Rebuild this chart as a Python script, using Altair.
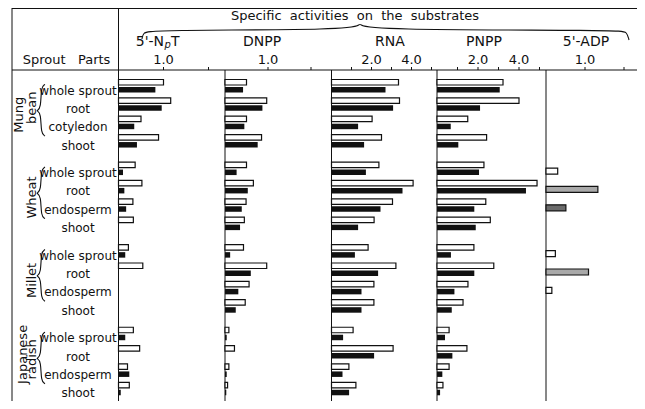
import altair as alt
import pandas as pd

# ---------------- data ----------------
groups = ["Mung bean", "Wheat", "Millet", "Japanese radish"]
group_label_lines = [["Mung", "bean"], ["Wheat"], ["Millet"], ["Japanese", "radish"]]
sprout_parts = [
    ["whole sprout", "root", "cotyledon", "shoot"],
    ["whole sprout", "root", "endosperm", "shoot"],
    ["whole sprout", "root", "endosperm", "shoot"],
    ["whole sprout", "root", "endosperm", "shoot"],
]
substrates = ["5'-NpT", "DNPP", "RNA", "PNPP", "5'-ADP"]
tick_values = [[1.0], [1.0], [2.0, 4.0], [2.0, 4.0], [1.0]]
tick_labels = [["1.0"], ["1.0"], ["2.0", "4.0"], ["2.0", "4.0"], ["1.0"]]
minor_ticks = [[1, 2], [1, 2], [1, 2, 3, 4, 5], [1, 2, 3, 4, 5], [1, 2]]

# 16 rows each: Mung bean (4), Wheat (4), Millet (4), Japanese radish (4)
npt_open = [1.00, 1.16, 0.50, 0.89, 0.37, 0.52, 0.32, 0.33, 0.22, 0.54, 0.0, 0.0, 0.33, 0.47, 0.20, 0.24]
npt_filled = [0.82, 0.96, 0.35, 0.41, 0.10, 0.13, 0.17, 0.0, 0.15, 0.0, 0.0, 0.0, 0.15, 0.0, 0.24, 0.05]
dnpp_open = [0.50, 0.97, 0.50, 0.85, 0.50, 0.66, 0.49, 0.45, 0.43, 0.97, 0.56, 0.47, 0.09, 0.22, 0.09, 0.06]
dnpp_filled = [0.42, 0.87, 0.45, 0.76, 0.27, 0.53, 0.39, 0.35, 0.12, 0.60, 0.31, 0.25, 0.04, 0.0, 0.04, 0.03]
rna_open = [3.35, 3.40, 2.03, 2.50, 2.37, 4.08, 3.05, 2.13, 1.83, 3.22, 2.12, 2.12, 1.08, 3.08, 0.87, 1.22]
rna_filled = [2.70, 3.08, 1.33, 1.63, 1.72, 3.55, 2.45, 1.33, 1.17, 2.33, 1.50, 1.50, 0.58, 2.13, 0.55, 0.88]
pnpp_open = [3.22, 4.00, 1.50, 2.42, 2.29, 4.88, 2.38, 2.60, 1.80, 2.77, 1.51, 1.27, 0.59, 1.46, 0.59, 0.29]
pnpp_filled = [3.06, 2.10, 0.67, 1.04, 2.05, 4.34, 1.82, 1.89, 0.68, 1.82, 0.85, 0.72, 0.39, 0.75, 0.26, 0.15]
adp_values = [0, 0, 0, 0, 0.30, 1.33, 0.51, 0, 0.24, 1.09, 0.15, 0, 0, 0, 0, 0]
adp_shading = ["", "", "", "", "open", "stippled", "dense", "",
               "open", "stippled", "open", "", "", "", "", ""]

# ---------------- layout ----------------
W, H = 629, 393
FONT = "DejaVu Sans"
INK = "#111111"
NB = "\u00a0"
panel_left = [110.5, 217.0, 323.5, 429.0, 538.0]
px_per_unit = [45.0, 43.0, 20.0, 20.5, 39.0]
row0, pitch, group_step = 82.5, 18.35, 4.5
header_y = 62.0


def xs(i):
    return alt.Scale(domain=[0, 1], range=[panel_left[i], panel_left[i] + px_per_unit[i]],
                     nice=False, zero=False)


ys = alt.Scale(domain=[0, 1], range=[row0, row0 + pitch], nice=False, zero=False)

OPEN = (-11.0 / pitch, -5.5 / pitch)
FILLED = (-3.5 / pitch, 2.0 / pitch)
ADPOFF = (-5.0 / pitch, 1.0 / pitch)

recs = []
for g, parts in enumerate(sprout_parts):
    for r, p in enumerate(parts):
        recs.append({"group": groups[g], "part": p, "pos": g * group_step + r})
rows = pd.DataFrame(recs)

layers = []

# ----- frame lines (pixel positions) -----
segs = [
    (4, W, 0.5, 0.5),
    (4, 4, 0, H),
    (panel_left[0], panel_left[0], 0, H),
    (4, W, header_y, header_y),
]
for i in range(1, 5):
    segs.append((panel_left[i], panel_left[i], header_y, H))
seg_df = pd.DataFrame(segs, columns=["x", "x2", "y", "y2"])
layers.append(
    alt.Chart(seg_df).mark_rule(color=INK, strokeWidth=1).encode(
        x=alt.X("x:Q", scale=None), x2="x2:Q",
        y=alt.Y("y:Q", scale=None), y2="y2:Q")
)

# ----- bars -----
series = [(npt_open, npt_filled), (dnpp_open, dnpp_filled),
          (rna_open, rna_filled), (pnpp_open, pnpp_filled)]
for i, (op, fi) in enumerate(series):
    d_open = rows.assign(value=op, zero=0.0)
    d_open = d_open[d_open["value"] > 0]
    d_open = d_open.assign(y0=d_open["pos"] + OPEN[0], y1=d_open["pos"] + OPEN[1])
    d_fill = rows.assign(value=fi, zero=0.0)
    d_fill = d_fill[d_fill["value"] > 0]
    d_fill = d_fill.assign(y0=d_fill["pos"] + FILLED[0], y1=d_fill["pos"] + FILLED[1])
    layers.append(
        alt.Chart(d_open).mark_rect(fill="white", stroke=INK, strokeWidth=1.2).encode(
            x=alt.X("value:Q", scale=xs(i), axis=None), x2="zero:Q",
            y=alt.Y("y0:Q", scale=ys, axis=None), y2="y1:Q")
    )
    layers.append(
        alt.Chart(d_fill).mark_rect(fill=INK).encode(
            x=alt.X("value:Q", scale=xs(i), axis=None), x2="zero:Q",
            y=alt.Y("y0:Q", scale=ys, axis=None), y2="y1:Q")
    )

d_adp = rows.assign(value=adp_values, shade=adp_shading, zero=0.0)
d_adp = d_adp[d_adp["value"] > 0]
d_adp = d_adp.assign(y0=d_adp["pos"] + ADPOFF[0], y1=d_adp["pos"] + ADPOFF[1])
layers.append(
    alt.Chart(d_adp).mark_rect(stroke=INK, strokeWidth=1.2).encode(
        x=alt.X("value:Q", scale=xs(4), axis=None), x2="zero:Q",
        y=alt.Y("y0:Q", scale=ys, axis=None), y2="y1:Q",
        fill=alt.Fill("shade:N", legend=None,
                      scale=alt.Scale(domain=["open", "stippled", "dense"],
                                      range=["white", "#a9a9a9", "#6b6b6b"])))
)

# ----- axis ticks and tick labels along the header line -----
for i in range(5):
    tdf = pd.DataFrame({"value": minor_ticks[i]})
    layers.append(
        alt.Chart(tdf).mark_rule(color=INK, strokeWidth=1).encode(
            x=alt.X("value:Q", scale=xs(i), axis=None),
            y=alt.value(header_y - 3), y2=alt.value(header_y))
    )
    ldf = pd.DataFrame({"value": tick_values[i], "label": tick_labels[i]})
    layers.append(
        alt.Chart(ldf).mark_text(font=FONT, fontSize=13, color=INK, baseline="middle").encode(
            x=alt.X("value:Q", scale=xs(i), axis=None),
            y=alt.value(52), text="label:N")
    )

# ----- row labels -----
layers.append(
    alt.Chart(rows).mark_text(font=FONT, fontSize=12, color=INK, align="center",
                              baseline="middle").encode(
        x=alt.value(70), y=alt.Y("pos:Q", scale=ys, axis=None), text="part:N")
)

# ----- group labels (rotated) -----
gl_rel = [[1.32, 0.94], [1.33], [1.35], [0.88, 1.15]]
gl_x = [[10.5, 24.0], [24.0], [24.0], [14.5, 24.0]]
grecs = []
for g in range(4):
    for t, rel, xx in zip(group_label_lines[g], gl_rel[g], gl_x[g]):
        grecs.append({"text": t, "x": xx, "pos": g * group_step + rel})
layers.append(
    alt.Chart(pd.DataFrame(grecs)).mark_text(font=FONT, fontSize=13, color=INK, angle=270,
                                             align="center", baseline="middle").encode(
        x=alt.X("x:Q", scale=None), y=alt.Y("pos:Q", scale=ys, axis=None), text="text:N")
)

# ----- group braces -----
brace_shape = [(37, -0.33), (33, -0.2), (33, 0.95), (29, 1.1), (29, 1.1), (33, 1.25),
               (33, 2.35), (37, 2.48)]
brecs = []
for g in range(4):
    for o, (bx, rel) in enumerate(brace_shape):
        brecs.append({"id": g, "o": o, "x": bx, "pos": g * group_step + rel})
layers.append(
    alt.Chart(pd.DataFrame(brecs)).mark_line(color=INK, strokeWidth=1.1, interpolate="basis").encode(
        x=alt.X("x:Q", scale=None), y=alt.Y("pos:Q", scale=ys, axis=None),
        detail="id:N", order="o:Q")
)

# ----- header brace -----
hb = [(134, 31), (135, 25), (142, 22), (344, 22), (352, 16), (352, 16), (360, 22),
      (612, 22), (619, 24), (621, 32)]
hb_df = pd.DataFrame([{"o": k, "x": a, "y": b} for k, (a, b) in enumerate(hb)])
layers.append(
    alt.Chart(hb_df).mark_line(color=INK, strokeWidth=1.1, interpolate="basis").encode(
        x=alt.X("x:Q", scale=None), y=alt.Y("y:Q", scale=None), order="o:Q")
)

# ----- header texts -----
htext = pd.DataFrame([
    {"text": NB.join(["Specific", " activities", " on", " the", " substrates"]),
     "x": 347, "y": 8, "size": 13},
    {"text": "Sprout" + NB + NB + " Parts", "x": 58.5, "y": 52, "size": 13},
    {"text": substrates[1], "x": 254, "y": 34, "size": 14},
    {"text": substrates[2], "x": 382, "y": 34, "size": 14},
    {"text": substrates[3], "x": 476, "y": 34, "size": 14},
    {"text": substrates[4], "x": 578, "y": 34, "size": 14},
])
layers.append(
    alt.Chart(htext).mark_text(font=FONT, color=INK, align="center", baseline="middle").encode(
        x=alt.X("x:Q", scale=None), y=alt.Y("y:Q", scale=None), text="text:N",
        size=alt.Size("size:Q", scale=None))
)
# 5'-NpT with subscript p
layers.append(
    alt.Chart(pd.DataFrame({"t": ["5'-N"]})).mark_text(
        font=FONT, fontSize=14, color=INK, align="right", baseline="middle").encode(
        x=alt.value(156), y=alt.value(34), text="t:N")
)
layers.append(
    alt.Chart(pd.DataFrame({"t": ["p"]})).mark_text(
        font=FONT, fontSize=10, fontStyle="italic", color=INK, align="left",
        baseline="middle").encode(x=alt.value(156.5), y=alt.value(37), text="t:N")
)
layers.append(
    alt.Chart(pd.DataFrame({"t": ["T"]})).mark_text(
        font=FONT, fontSize=14, color=INK, align="left", baseline="middle").encode(
        x=alt.value(163), y=alt.value(34), text="t:N")
)

chart = (
    alt.layer(*layers)
    .resolve_scale(x="independent", y="independent")
    .properties(width=W, height=H, padding=0, autosize="none", background="white")
    .configure_view(stroke=None)
)

chart.save("out.html", embed_options={"renderer": "svg", "actions": False})
